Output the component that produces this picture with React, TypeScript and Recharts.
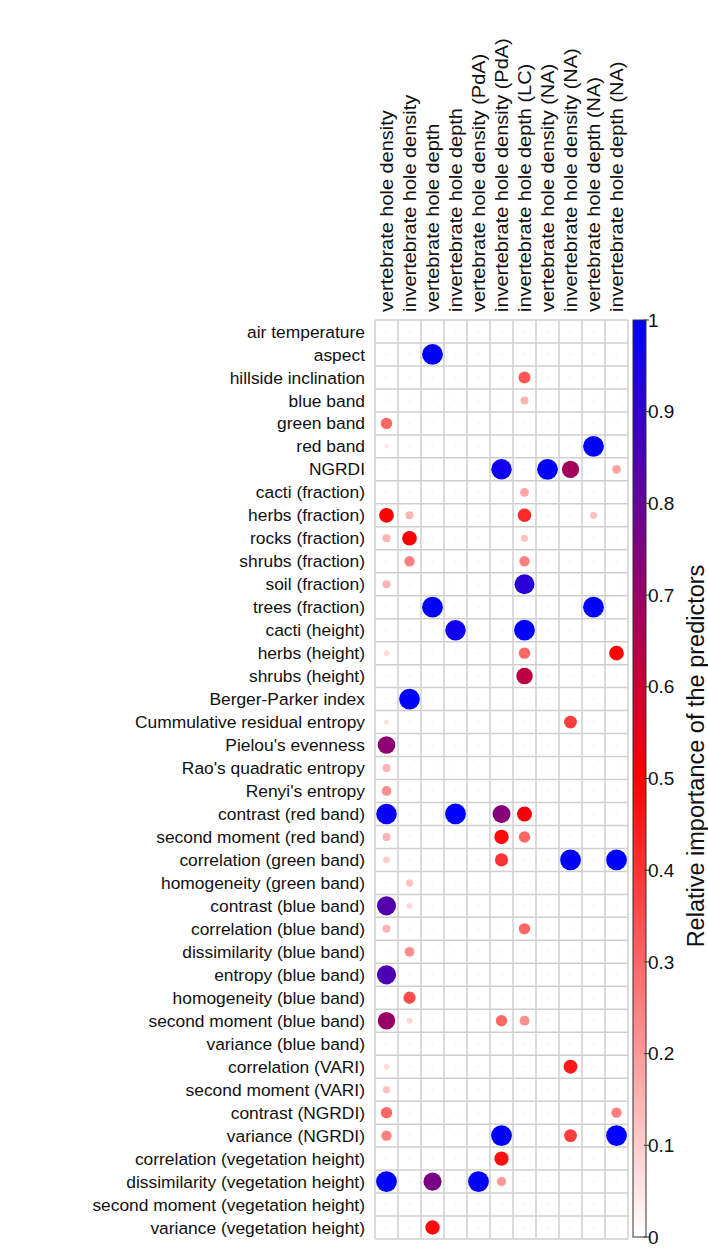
import React from 'react';
import { ScatterChart, Scatter, XAxis, YAxis, ZAxis, ReferenceLine, Cell } from 'recharts';

const responses = [
  'vertebrate hole density',
  'invertebrate hole density',
  'vertebrate hole depth',
  'invertebrate hole depth',
  'vertebrate hole density (PdA)',
  'invertebrate hole density (PdA)',
  'invertebrate hole depth (LC)',
  'vertebrate hole density (NA)',
  'invertebrate hole density (NA)',
  'vertebrate hole depth (NA)',
  'invertebrate hole depth (NA)',
];

const predictors = [
  'air temperature', 'aspect', 'hillside inclination', 'blue band', 'green band',
  'red band', 'NGRDI', 'cacti (fraction)', 'herbs (fraction)', 'rocks (fraction)',
  'shrubs (fraction)', 'soil (fraction)', 'trees (fraction)', 'cacti (height)', 'herbs (height)',
  'shrubs (height)', 'Berger-Parker index', 'Cummulative residual entropy', "Pielou's evenness", "Rao's quadratic entropy",
  "Renyi's entropy", 'contrast (red band)', 'second moment (red band)', 'correlation (green band)', 'homogeneity (green band)',
  'contrast (blue band)', 'correlation (blue band)', 'dissimilarity (blue band)', 'entropy (blue band)', 'homogeneity (blue band)',
  'second moment (blue band)', 'variance (blue band)', 'correlation (VARI)', 'second moment (VARI)', 'contrast (NGRDI)',
  'variance (NGRDI)', 'correlation (vegetation height)', 'dissimilarity (vegetation height)', 'second moment (vegetation height)', 'variance (vegetation height)',
];

// relative importance per response, one value per predictor (same order as above)
const vertDensity = [
  0.02, 0.02, 0.02, 0.02, 0.3, 0.05, 0.02, 0.02, 0.5, 0.15,
  0.02, 0.15, 0.02, 0.02, 0.07, 0.02, 0.02, 0.06, 0.72, 0.15,
  0.22, 0.98, 0.15, 0.1, 0.02, 0.84, 0.15, 0.02, 0.85, 0.02,
  0.7, 0.02, 0.07, 0.12, 0.3, 0.25, 0.02, 1, 0.02, 0.02,
];
const invDensity = [
  0.02, 0.02, 0.02, 0.02, 0.02, 0.02, 0.02, 0.02, 0.15, 0.5,
  0.25, 0.02, 0.02, 0.02, 0.02, 0.02, 1, 0.02, 0.02, 0.02,
  0.02, 0.02, 0.02, 0.02, 0.12, 0.08, 0.02, 0.22, 0.02, 0.35,
  0.08, 0.02, 0.02, 0.02, 0.02, 0.02, 0.02, 0.02, 0.02, 0.02,
];
const vertDepth = [
  0.02, 1, 0.02, 0.02, 0.02, 0.02, 0.02, 0.02, 0.02, 0.02,
  0.02, 0.02, 1, 0.02, 0.02, 0.02, 0.02, 0.02, 0.02, 0.02,
  0.02, 0.02, 0.02, 0.02, 0.02, 0.02, 0.02, 0.02, 0.02, 0.02,
  0.02, 0.02, 0.02, 0.02, 0.02, 0.02, 0.02, 0.76, 0.02, 0.48,
];
const invDepth = [
  0.02, 0.02, 0.02, 0.02, 0.02, 0.02, 0.02, 0.02, 0.02, 0.02,
  0.02, 0.02, 0.02, 0.97, 0.02, 0.02, 0.02, 0.02, 0.02, 0.02,
  0.02, 1, 0.02, 0.02, 0.02, 0.02, 0.02, 0.02, 0.02, 0.02,
  0.02, 0.02, 0.02, 0.02, 0.02, 0.02, 0.02, 0.02, 0.02, 0.02,
];
const vertDensityPdA = [
  0.02, 0.02, 0.02, 0.02, 0.02, 0.02, 0.02, 0.02, 0.02, 0.02,
  0.02, 0.02, 0.02, 0.02, 0.02, 0.02, 0.02, 0.02, 0.02, 0.02,
  0.02, 0.02, 0.02, 0.02, 0.02, 0.02, 0.02, 0.02, 0.02, 0.02,
  0.02, 0.02, 0.02, 0.02, 0.02, 0.02, 0.02, 1, 0.02, 0.02,
];
const invDensityPdA = [
  0.02, 0.02, 0.02, 0.02, 0.02, 0.02, 0.97, 0.02, 0.02, 0.02,
  0.02, 0.02, 0.02, 0.02, 0.02, 0.02, 0.02, 0.02, 0.02, 0.02,
  0.02, 0.74, 0.48, 0.4, 0.02, 0.02, 0.02, 0.02, 0.02, 0.02,
  0.3, 0.02, 0.02, 0.02, 0.02, 1, 0.47, 0.2, 0.02, 0.02,
];
const invDepthLC = [
  0.02, 0.02, 0.33, 0.15, 0.02, 0.02, 0.02, 0.18, 0.42, 0.12,
  0.25, 0.92, 0.02, 1, 0.3, 0.63, 0.02, 0.02, 0.02, 0.02,
  0.02, 0.52, 0.3, 0.02, 0.02, 0.02, 0.3, 0.02, 0.02, 0.02,
  0.22, 0.02, 0.02, 0.02, 0.02, 0.02, 0.02, 0.02, 0.02, 0.02,
];
const vertDensityNA = [
  0.02, 0.02, 0.02, 0.02, 0.02, 0.02, 1, 0.02, 0.02, 0.02,
  0.02, 0.02, 0.02, 0.02, 0.02, 0.02, 0.02, 0.02, 0.02, 0.02,
  0.02, 0.02, 0.02, 0.02, 0.02, 0.02, 0.02, 0.02, 0.02, 0.02,
  0.02, 0.02, 0.02, 0.02, 0.02, 0.02, 0.02, 0.02, 0.02, 0.02,
];
const invDensityNA = [
  0.02, 0.02, 0.02, 0.02, 0.02, 0.02, 0.68, 0.02, 0.02, 0.02,
  0.02, 0.02, 0.02, 0.02, 0.02, 0.02, 0.02, 0.38, 0.02, 0.02,
  0.02, 0.02, 0.02, 1, 0.02, 0.02, 0.02, 0.02, 0.02, 0.02,
  0.02, 0.02, 0.45, 0.02, 0.02, 0.38, 0.02, 0.02, 0.02, 0.02,
];
const vertDepthNA = [
  0.02, 0.02, 0.02, 0.02, 0.02, 1, 0.02, 0.02, 0.12, 0.02,
  0.02, 0.02, 1, 0.02, 0.02, 0.02, 0.02, 0.02, 0.02, 0.02,
  0.02, 0.02, 0.02, 0.02, 0.02, 0.02, 0.02, 0.02, 0.02, 0.02,
  0.02, 0.02, 0.02, 0.02, 0.02, 0.02, 0.02, 0.02, 0.02, 0.02,
];
const invDepthNA = [
  0.02, 0.02, 0.02, 0.02, 0.02, 0.02, 0.18, 0.02, 0.02, 0.02,
  0.02, 0.02, 0.02, 0.02, 0.5, 0.02, 0.02, 0.02, 0.02, 0.02,
  0.02, 0.02, 0.02, 1, 0.02, 0.02, 0.02, 0.02, 0.02, 0.02,
  0.02, 0.02, 0.02, 0.02, 0.25, 1, 0.02, 0.02, 0.02, 0.02,
];

const columns = [
  vertDensity, invDensity, vertDepth, invDepth, vertDensityPdA, invDensityPdA,
  invDepthLC, vertDensityNA, invDensityNA, vertDepthNA, invDepthNA,
];

const colorbarTicks = [0, 0.1, 0.2, 0.3, 0.4, 0.5, 0.6, 0.7, 0.8, 0.9, 1];

const FONT = '"Liberation Sans", Arial, sans-serif';

// white -> red -> blue, like the colour bar
const colorFor = (v: number) => {
  if (v <= 0.5) {
    const g = Math.round(255 * (1 - 2 * v));
    return `rgb(255,${g},${g})`;
  }
  const r = Math.round(255 * (2 - 2 * v));
  const b = Math.round(255 * (2 * v - 1));
  return `rgb(${r},0,${b})`;
};

const points = columns.flatMap((vals, c) => vals.map((v, r) => ({ x: c, y: r + 1, v })));

const ColTick = (props: any) => {
  const { x, y, payload } = props;
  return (
    <text
      transform={`translate(${x},${y}) rotate(-90) scale(1.14,1)`}
      dy="0.35em"
      textAnchor="start"
      fontSize={17.5}
      fontFamily={FONT}
      fill="#111"
    >
      {responses[payload.value]}
    </text>
  );
};

const RowTick = (props: any) => {
  const { x, y, payload } = props;
  return (
    <text x={x} y={y} dy="0.35em" textAnchor="end" fontSize={17.4} fontFamily={FONT} fill="#111">
      {predictors[payload.value - 1]}
    </text>
  );
};

const CB = { x: 633, top: 320, bottom: 1237, width: 13 };

const ColorBar = () => {
  const yOf = (t: number) => CB.top + (1 - t) * (CB.bottom - CB.top);
  return (
    <svg width={708} height={1248} style={{ position: 'absolute', left: 0, top: 0, pointerEvents: 'none' }}>
      <defs>
        <linearGradient id="cbGrad" x1="0" y1="0" x2="0" y2="1">
          <stop offset="0%" stopColor="#0000ff" />
          <stop offset="50%" stopColor="#ff0000" />
          <stop offset="100%" stopColor="#ffffff" />
        </linearGradient>
      </defs>
      <rect x={CB.x} y={CB.top} width={CB.width} height={CB.bottom - CB.top} fill="url(#cbGrad)" stroke="#333" strokeWidth={1} />
      {colorbarTicks.map((t) => (
        <g key={t}>
          <line x1={CB.x + CB.width - 2} x2={CB.x + CB.width + 3} y1={yOf(t)} y2={yOf(t)} stroke="#333" />
          <text x={CB.x + CB.width + 2} y={yOf(t)} dy="0.35em" fontSize={19} fontFamily={FONT} fill="#111">
            {String(t)}
          </text>
        </g>
      ))}
      <text
        transform="translate(704,756) rotate(-90)"
        textAnchor="middle"
        fontSize={23.5}
        fontFamily={FONT}
        fill="#111"
      >
        Relative importance of the predictors
      </text>
    </svg>
  );
};

export default function App() {
  const xBounds = Array.from({ length: responses.length + 1 }, (_, i) => i - 0.5);
  const yBounds = Array.from({ length: predictors.length + 1 }, (_, i) => i + 0.5);
  return (
    <div style={{ position: 'absolute', left: 0, top: 0, width: 708, height: 1248, background: '#fff' }}>
      <ScatterChart width={708} height={1248} margin={{ top: 0, right: 80, bottom: 9, left: 0 }}>
        <XAxis
          type="number"
          dataKey="x"
          orientation="top"
          domain={[-0.5, responses.length - 0.5]}
          ticks={responses.map((_, i) => i)}
          interval={0}
          height={320}
          axisLine={false}
          tickLine={false}
          tick={<ColTick />}
        />
        <YAxis
          type="number"
          dataKey="y"
          domain={[0.5, predictors.length + 0.5]}
          reversed
          ticks={predictors.map((_, i) => i + 1)}
          interval={0}
          width={375}
          tickMargin={4}
          axisLine={false}
          tickLine={false}
          tick={<RowTick />}
        />
        <ZAxis type="number" dataKey="v" domain={[0, 1]} range={[0, 340]} />
        {xBounds.map((b) => (
          <ReferenceLine key={`vx${b}`} x={b} stroke="#cfcfcf" strokeWidth={1.5} />
        ))}
        {yBounds.map((b) => (
          <ReferenceLine key={`hy${b}`} y={b} stroke="#cfcfcf" strokeWidth={1.5} />
        ))}
        <Scatter data={points} isAnimationActive={false}>
          {points.map((p, i) => (
            <Cell key={i} fill={colorFor(p.v)} />
          ))}
        </Scatter>
      </ScatterChart>
      <ColorBar />
    </div>
  );
}
